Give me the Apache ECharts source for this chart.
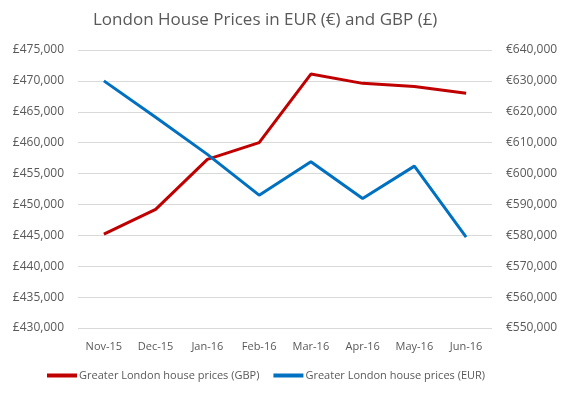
<!DOCTYPE html>
<html>
<head>
<meta charset="utf-8">
<script src="https://cdn.jsdelivr.net/npm/echarts@6/dist/echarts.min.js"></script>
<style>html,body{margin:0;padding:0;background:#fff}#c{width:569px;height:393px}</style>
</head>
<body>
<div id="c"></div>
<script>
var categories = ['Nov-15','Dec-15','Jan-16','Feb-16','Mar-16','Apr-16','May-16','Jun-16'];
var gbpValues = [445200, 449200, 457300, 460000, 471100, 469600, 469100, 468000];
var eurValues = [630000, 618200, 606200, 593000, 603800, 591900, 602400, 579400];
var gbpTicks = [430000, 435000, 440000, 445000, 450000, 455000, 460000, 465000, 470000, 475000];
var eurTicks = [550000, 560000, 570000, 580000, 590000, 600000, 610000, 620000, 630000, 640000];
var gbpName = 'Greater London house prices (GBP)';
var eurName = 'Greater London house prices (EUR)';
var titleText = 'London House Prices in EUR (€) and GBP (£)';

function fmt(prefix){ return function(v){ return prefix + v.toString().replace(/\B(?=(\d{3})+(?!\d))/g, ','); }; }
var font = 'Open Sans';
var chart = echarts.init(document.getElementById('c'));
chart.setOption({
  animation: false,
  title: { text: titleText, left: 88, top: 7,
    textStyle: { fontFamily: font, fontSize: 17, fontWeight: 'normal', color: '#595959' } },
  grid: { left: 78, right: 77, top: 50, bottom: 65 },
  legend: { bottom: 7, left: 42, itemWidth: 30, itemHeight: 4, itemGap: 14,
    icon: 'rect',
    textStyle: { fontFamily: font, fontSize: 11, color: '#595959', padding: [0,0,0,-3] },
    data: [gbpName, eurName] },
  xAxis: { type: 'category', data: categories, boundaryGap: true,
    axisLine: { show: false }, axisTick: { show: false },
    axisLabel: { fontFamily: font, fontSize: 11, color: '#595959', margin: 13 } },
  yAxis: [
    { type: 'value', min: gbpTicks[0], max: gbpTicks[gbpTicks.length-1], interval: gbpTicks[1]-gbpTicks[0],
      axisLine: { show: false }, axisTick: { show: false },
      splitLine: { lineStyle: { color: '#d9d9d9', width: 1 } },
      axisLabel: { fontFamily: font, fontSize: 12, color: '#595959', margin: 14, formatter: fmt('£') } },
    { type: 'value', min: eurTicks[0], max: eurTicks[eurTicks.length-1], interval: eurTicks[1]-eurTicks[0],
      axisLine: { show: false }, axisTick: { show: false }, splitLine: { show: false },
      axisLabel: { fontFamily: font, fontSize: 12, color: '#595959', margin: 14, formatter: fmt('€') } }
  ],
  series: [
    { name: gbpName, type: 'line', yAxisIndex: 0, data: gbpValues, symbol: 'none',
      itemStyle: { color: '#C00000' }, lineStyle: { color: '#C00000', width: 3 } },
    { name: eurName, type: 'line', yAxisIndex: 1, data: eurValues, symbol: 'none',
      itemStyle: { color: '#0070C0' }, lineStyle: { color: '#0070C0', width: 3 } }
  ]
});
</script>
</body>
</html>
